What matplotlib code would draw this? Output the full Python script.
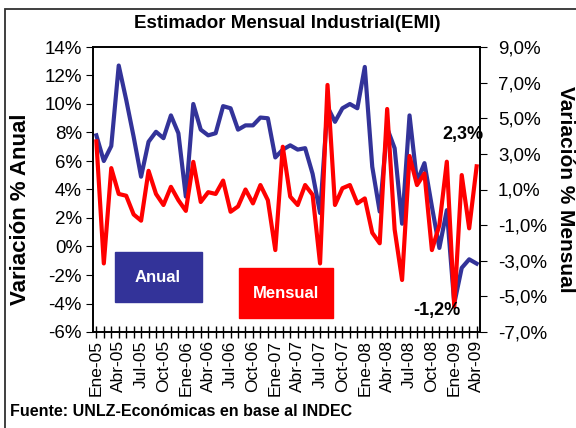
import matplotlib.pyplot as plt
from matplotlib.patches import Rectangle
from matplotlib.ticker import FixedLocator, FuncFormatter

plt.rcParams['font.family'] = ['Liberation Sans', 'DejaVu Sans']

# Ene-05 .. Abr-09, one value per month
meses = ['Ene', 'Feb', 'Mar', 'Abr', 'May', 'Jun', 'Jul', 'Ago', 'Sep', 'Oct', 'Nov', 'Dic']
periodos = [f"{m}-{a:02d}" for a in range(5, 10) for m in meses][:52]

anual = [7.8, 6.0, 7.05, 12.7, 10.3, 7.7, 4.9, 7.35, 8.05, 7.6, 9.2, 7.95,
         3.5, 10.0, 8.2, 7.8, 7.95, 9.85, 9.7, 8.2, 8.5, 8.5, 9.05, 9.0,
         6.25, 6.8, 7.1, 6.8, 6.9, 5.1, 2.35, 9.8, 8.75, 9.7, 10.0, 9.7,
         12.6, 5.6, 2.45, 8.3, 6.9, 1.6, 9.2, 4.55, 5.85, 2.8, -0.1, 2.55,
         -4.0, -1.5, -0.9, -1.2]

mensual = [3.7, -3.15, 2.2, 0.75, 0.65, -0.4, -0.75, 2.05, 0.75, 0.13, 1.15, 0.4,
           -0.2, 2.55, 0.3, 0.85, 0.75, 1.5, -0.25, 0.05, 1.0, 0.22, 1.25, 0.4,
           -2.4, 3.4, 0.6, 0.13, 1.25, 0.7, -3.15, 6.87, 0.13, 1.07, 1.25, 0.22,
           0.5, -1.43, -2.02, 5.52, -1.24, -4.08, 2.88, 1.25, 1.9, -2.4, -1.0, 2.56,
           -5.58, 1.81, -1.18, 2.3]

azul = '#333399'
rojo = '#FF0000'

fig = plt.figure(figsize=(5.76, 4.28), dpi=100)
fig.patches.append(Rectangle((5 / 576, -0.1), 1.2, 1 - 9 / 428 + 0.1,
                             transform=fig.transFigure, fill=False,
                             edgecolor='#303030', lw=1.3))

ax = fig.add_axes([93 / 576, 1 - 332 / 428, 387 / 576, 285 / 428])
ax2 = ax.twinx()

x = list(range(len(periodos)))
ax.plot(x, anual, color=azul, lw=3, zorder=3)
ax2.plot(x, mensual, color=rojo, lw=3, zorder=4)

ax.set_xlim(-0.45, len(x) - 0.55)
ax.set_ylim(-6, 14)
ax2.set_ylim(-7, 9)
ax.set_yticks(range(-6, 15, 2))
ax.yaxis.set_major_formatter(FuncFormatter(lambda v, p: f"{v:.0f}%"))
ax2.set_yticks(range(-7, 10, 2))
ax2.yaxis.set_major_formatter(FuncFormatter(lambda v, p: f"{v:.1f}%".replace('.', ',')))

ax.set_xticks(x[::3])
ax.set_xticklabels(periodos[::3], rotation=90, fontsize=12.5)
ax.xaxis.set_minor_locator(FixedLocator(x))
ax.tick_params(axis='x', which='both', direction='inout', length=8, width=1, pad=2)
ax.tick_params(axis='y', direction='out', length=5, labelsize=13.5, pad=3)
ax2.tick_params(axis='y', direction='out', length=5, labelsize=13.5, pad=8)

for a in (ax, ax2):
    for s in a.spines.values():
        s.set_linewidth(1.2)

ax.set_ylabel('Variación % Anual', fontsize=16, fontweight='bold')
ax.yaxis.set_label_coords(-0.16, 0.43)
ax2.set_ylabel('Variación % Mensual', fontsize=15, fontweight='bold', rotation=-90)
ax2.yaxis.set_label_coords(1.22, 0.5)
ax2.yaxis.label.set_va('center')

fig.text(287 / 576, 1 - 24 / 428, 'Estimador Mensual Industrial(EMI)',
         fontsize=13.5, fontweight='bold', ha='center', va='center')
fig.text(10 / 576, 1 - 411 / 428, 'Fuente: UNLZ-Económicas en base al INDEC',
         fontsize=11.5, fontweight='bold', ha='left', va='center')

# cajas de leyenda
fig.patches.append(Rectangle((115 / 576, 1 - 302 / 428), 87 / 576, 50 / 428,
                             transform=fig.transFigure, color=azul, zorder=5))
fig.text(158 / 576, 1 - 277 / 428, 'Anual', color='white', fontsize=12,
         fontweight='bold', ha='center', va='center', zorder=6)
fig.patches.append(Rectangle((239 / 576, 1 - 318 / 428), 94 / 576, 50 / 428,
                             transform=fig.transFigure, color=rojo, zorder=5))
fig.text(286 / 576, 1 - 293 / 428, 'Mensual', color='white', fontsize=12,
         fontweight='bold', ha='center', va='center', zorder=6)

fig.text(463 / 576, 1 - 135 / 428, '2,3%', fontsize=13, fontweight='bold',
         ha='center', va='center')
fig.text(437 / 576, 1 - 310 / 428, '-1,2%', fontsize=13, fontweight='bold',
         ha='center', va='center')

fig.savefig('out.png', dpi=100)
